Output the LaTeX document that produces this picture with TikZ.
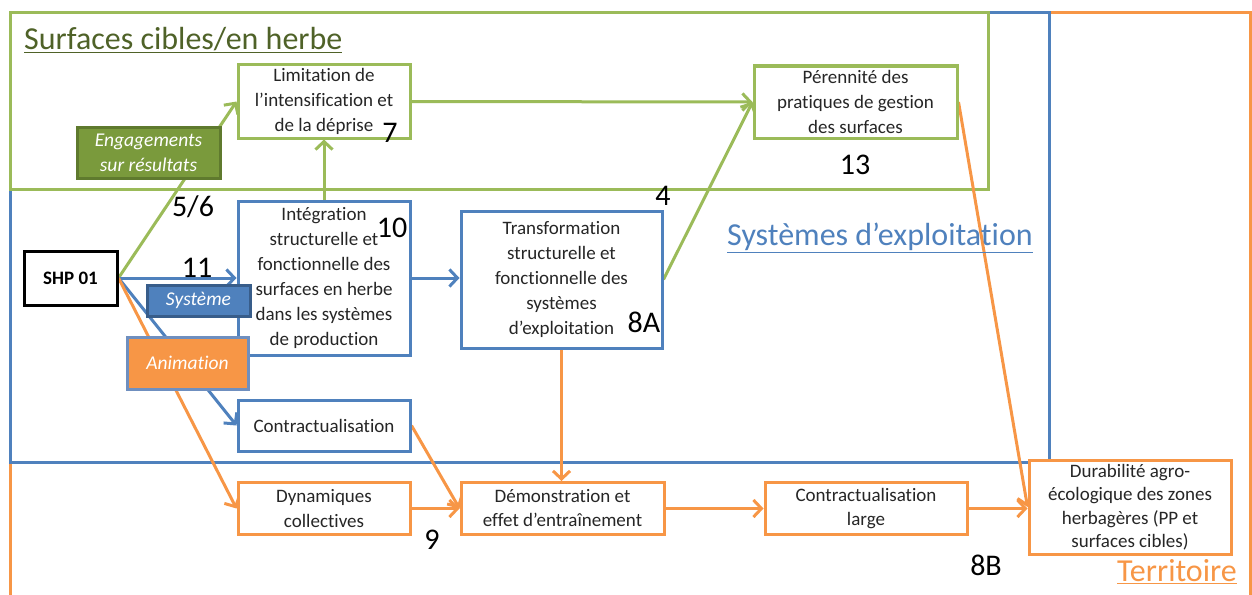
\documentclass[tikz,border=0pt]{standalone}
\usepackage{fontspec}
\setmainfont{Carlito}[Ligatures={NoCommon,NoContextual}, Contextuals=NoAlternate]
\usetikzlibrary{arrows.meta}
\definecolor{cgreen}{HTML}{9BBB59}
\definecolor{cgreendk}{HTML}{4F6228}
\definecolor{cengfill}{HTML}{7A9A3C}
\definecolor{cengdraw}{HTML}{5F7A2E}
\definecolor{cblue}{HTML}{4F81BD}
\definecolor{cbluedk}{HTML}{385D8A}
\definecolor{corange}{HTML}{F79646}
\definecolor{canimdraw}{HTML}{6F8FBF}
\definecolor{ctext}{HTML}{262626}
\pgfdeclarelayer{frames}
\pgfdeclarelayer{links}
\pgfsetlayers{frames,links,main}
\tikzset{
  box/.style={draw, line width=3, fill=white, text=ctext, align=center, inner sep=0pt,
    font=\fontsize{19}{25}\selectfont},
  gbox/.style={box, draw=cgreen},
  bbox/.style={box, draw=cblue},
  obox/.style={box, draw=corange},
  tag/.style={line width=3, text=white, align=center, inner sep=0pt,
    font=\fontsize{19.5}{25}\selectfont\itshape},
  num/.style={text=black, inner sep=0pt, font=\fontsize{30}{30}\selectfont},
  title/.style={anchor=west, inner sep=0pt, font=\fontsize{32}{32}\selectfont},
  link/.style={line width=3, -{Straight Barb[length=8,width=17,line width=3]}},
  glink/.style={link, cgreen},
  blink/.style={link, cblue},
  olink/.style={link, corange},
  frame/.style={line width=3},
}
\begin{document}
\begin{tikzpicture}[x=1pt,y=-1pt]
\useasboundingbox (0,0) rectangle (1252,594);

% region frames
\begin{pgfonlayer}{frames}
\draw[frame, corange] (10,600) -- (10,13) -- (1250,13) -- (1250,600);
\draw[frame, cblue] (10,13) rectangle (1049,462);
\draw[frame, cgreen] (10,13) rectangle (988,189);
\end{pgfonlayer}

% region titles
\node[title, text=cgreendk] (tsurf) at (24,40) {\underline{Surfaces cibles/en herbe}};
\node[title, text=cblue] (tsys) at (727,238) {\underline{Systèmes d’exploitation}};
\node[title, text=corange] (tterr) at (1117,572) {\underline{Territoire}};

% boxes
\node[gbox, minimum width=172, minimum height=73] (lim) at (324,101.5) {Limitation de\\l’intensification et\\de la déprise};
\node[gbox, minimum width=203, minimum height=72] (per) at (855.5,102) {Pérennité des\\pratiques de gestion\\des surfaces};
\node[box, draw=black, minimum width=93, minimum height=54, font=\fontsize{19}{22}\selectfont\bfseries, text=black] (shp) at (70.5,278) {SHP 01};
\node[bbox, minimum width=172, minimum height=154] (integ) at (324,278) {Intégration\\structurelle et\\fonctionnelle des\\surfaces en herbe\\dans les systèmes\\de production};
\node[bbox, minimum width=201, minimum height=137] (trans) at (561.5,279.5) {Transformation\\structurelle et\\fonctionnelle des\\systèmes\\d’exploitation};
\node[bbox, minimum width=172, minimum height=51] (contr) at (324,425.5) {Contractualisation};
\node[obox, minimum width=172, minimum height=52] (dyn) at (324,508.5) {Dynamiques\\collectives};
\node[obox, minimum width=203, minimum height=52, font=\fontsize{19}{24}\selectfont] (demo) at (562.5,508.5) {Démonstration et\\effet d’entraînement};
\node[obox, minimum width=202, minimum height=52, font=\fontsize{19}{24}\selectfont] (cl) at (866,508.5) {Contractualisation\\large};
\node[obox, minimum width=202, minimum height=94, font=\fontsize{19}{23.5}\selectfont] (dur) at (1130,507) {Durabilité agro-\\écologique des zones\\herbagères (PP et\\surfaces cibles)};

% lever tags
\node[tag, draw=cengdraw, fill=cengfill, minimum width=143, minimum height=51] (eng) at (148.5,152.5) {Engagements\\sur résultats};
\node[tag, draw=cbluedk, fill=cblue, minimum width=103, minimum height=31] (sys) at (198.5,300.5) {Système};
\node[tag, draw=canimdraw, fill=corange, minimum width=121, minimum height=52] (anim) at (187.5,363) {Animation};

% reference numbers
\node[num] (n7) at (390,133) {7};
\node[num] (n13) at (855,165) {13};
\node[num] (n56) at (193,207) {5/6};
\node[num] (n10) at (392,228) {10};
\node[num] (n11) at (197,268) {11};
\node[num] (n4) at (663,196) {4};
\node[num] (n8a) at (644,322) {8A};
\node[num] (n9) at (432,540) {9};
\node[num] (n8b) at (986,565) {8B};

% links
\begin{pgfonlayer}{links}
\draw[glink] (shp.east) -- (lim.west);
\draw[glink] (integ.north) -- (lim.south);
\draw[glink] (lim.east) -- (per.west);
\draw[glink] (trans.east) -- (per.west);
\draw[blink] (shp.east) -- (integ.west);
\draw[blink] (integ.east) -- (integ.east -| trans.west);
\draw[blink] (shp.east) -- (contr.west);
\draw[olink] (shp.east) -- (dyn.west);
\draw[olink] (contr.east) -- (demo.west);
\draw[olink] (dyn.east) -- (demo.west);
\draw[olink] (trans.south) -- (trans.south |- demo.north);
\draw[olink] (demo.east) -- (cl.west);
\draw[olink] (cl.east) -- (cl.east -| dur.west);
\draw[olink] (per.east) -- (dur.west);
\end{pgfonlayer}
\end{tikzpicture}
\end{document}
